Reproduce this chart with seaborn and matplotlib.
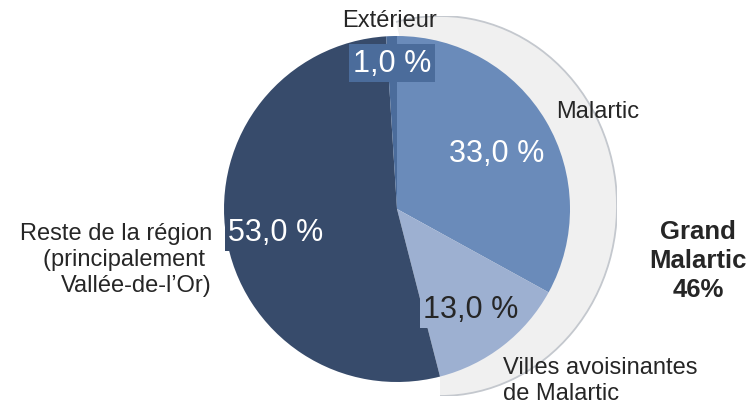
import matplotlib
matplotlib.use('Agg')
import matplotlib.pyplot as plt
import seaborn as sns
from matplotlib.patches import Arc

# données
zones = ['Malartic', 'Villes avoisinantes\nde Malartic',
         'Reste de la région\n(principalement \nVallée-de-l\u2019Or)', 'Extérieur']
parts = [33.0, 13.0, 53.0, 1.0]
couleurs = ['#6a8bba', '#9db0d1', '#374b6b', '#4b6c9b']
grand_malartic = parts[0] + parts[1]

sns.set_style('white')
plt.rcParams['font.family'] = ['Liberation Sans', 'DejaVu Sans']

W, H = 751, 406
fig = plt.figure(figsize=(W / 100, H / 100), dpi=100)

# bande grise "Grand Malartic" (légèrement ovale, derrière le camembert)
gx, gy, ga, gb = 440, 207, 177, 190
ax_bg = fig.add_axes([(gx - ga) / W, (H - gy - gb) / H, 2 * ga / W, 2 * gb / H])
ax_bg.pie([100 - grand_malartic, grand_malartic], colors=['#f0f0f0', (0, 0, 0, 0)],
          startangle=-90, counterclock=True, radius=1,
          wedgeprops=dict(linewidth=0))
ax_bg.add_patch(Arc((0, 0), 2, 2, theta1=-90, theta2=-90 + 3.6 * (100 - grand_malartic),
                    color='#c4c8ce', lw=1.3))
ax_bg.set_xlim(-1, 1)
ax_bg.set_ylim(-1, 1)
ax_bg.set_aspect('auto')
ax_bg.axis('off')

# camembert principal
ax = fig.add_axes([0, 0, 1, 1])
ax.patch.set_alpha(0)
cx, cy, r = 397, 210, 173
ax.pie(parts, colors=couleurs, startangle=90, counterclock=False,
       radius=r, center=(cx, H - cy), wedgeprops=dict(linewidth=0))
ax.set_xlim(0, W)
ax.set_ylim(0, H)
ax.set_aspect('auto')
ax.axis('off')

txt = '#262626'
fs_lab = 17
fs_pct = 22


def pct(v):
    return f'{v:.1f} %'.replace('.', ',')


# étiquettes de pourcentage (x, y en pixels)
pos_pct = [(497, 154), (471, 310), (276, 233), (392, 64)]
txt_pct = ['white', txt, 'white', 'white']
for v, (px, py), c, fc in zip(parts, pos_pct, txt_pct, couleurs):
    ax.text(px, H - py, pct(v), ha='center', va='center', fontsize=fs_pct, color=c,
            bbox=dict(boxstyle='square,pad=0.12', fc=fc, ec='none'))

# noms des zones
ax.text(598, H - 112, zones[0], ha='center', va='center', fontsize=fs_lab, color=txt)
ax.text(503, H - 357, zones[1], ha='left', va='top', fontsize=fs_lab, color=txt,
        linespacing=1.22)
ax.text(212, H - 260, zones[2], ha='right', va='center', multialignment='right',
        fontsize=fs_lab, color=txt, linespacing=1.22)
ax.text(390, H - 21, zones[3], ha='center', va='center', fontsize=fs_lab, color=txt)

ax.text(698, H - 261, f'Grand\nMalartic\n{grand_malartic:.0f}%', ha='center', va='center',
        multialignment='center', fontsize=18.5, fontweight='bold', color=txt,
        linespacing=1.25)

fig.savefig('out.png', dpi=100)
